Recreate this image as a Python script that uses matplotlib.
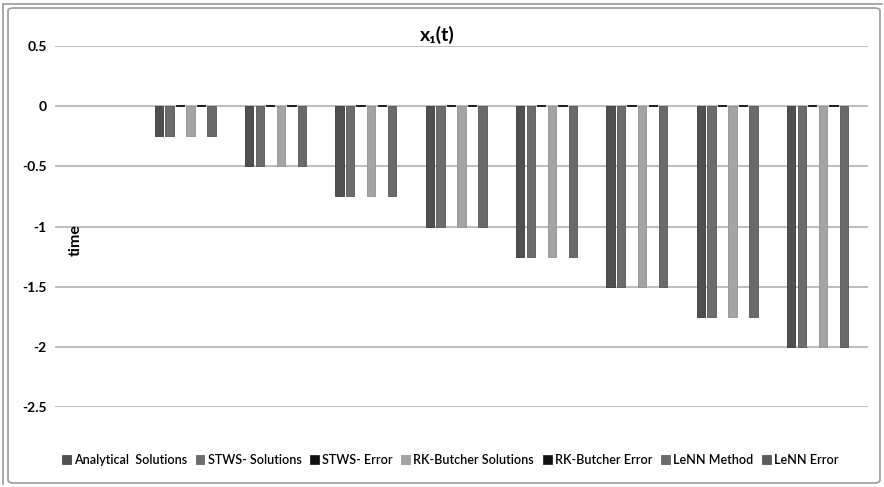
import numpy as np
import matplotlib.pyplot as plt
from matplotlib.patches import Patch, FancyBboxPatch
from matplotlib.lines import Line2D

plt.rcParams['font.family'] = ['Lato', 'DejaVu Sans']

# time steps and the solution values at each step
t_labels = ['0', '0.25', '0.5', '0.75', '1', '1.25', '1.5', '1.75', '2']
analytical = [0, -0.25, -0.5, -0.75, -1.0, -1.25, -1.5, -1.75, -2.0]
stws_sol = [0, -0.25, -0.5, -0.75, -1.0, -1.25, -1.5, -1.75, -2.0]
stws_err = [0, 0.012, 0.012, 0.012, 0.012, 0.012, 0.012, 0.012, 0.012]
rk_sol = [0, -0.25, -0.5, -0.75, -1.0, -1.25, -1.5, -1.75, -2.0]
rk_err = [0, 0.012, 0.012, 0.012, 0.012, 0.012, 0.012, 0.012, 0.012]
lenn_method = [0, -0.25, -0.5, -0.75, -1.0, -1.25, -1.5, -1.75, -2.0]
lenn_err = [0, 0, 0, 0, 0, 0, 0, 0, 0]

series = [
    ('Analytical  Solutions', analytical, '#505050', '#383838'),
    ('STWS- Solutions', stws_sol, '#6c6c6c', '#555555'),
    ('STWS- Error', stws_err, '#111111', '#111111'),
    ('RK-Butcher Solutions', rk_sol, '#a4a4a4', '#909090'),
    ('RK-Butcher Error', rk_err, '#111111', '#111111'),
    ('LeNN Method', lenn_method, '#6a6a6a', '#555555'),
    ('LeNN Error', lenn_err, '#5a5a5a', '#444444'),
]

fig = plt.figure(figsize=(8.84, 4.87), dpi=100)
ax = fig.add_axes([55 / 884, 1 - 407 / 487, 813 / 884, 361 / 487])

x = np.arange(len(t_labels))
slot = 0.117
handles = []
for i, (name, vals, fc, ec) in enumerate(series):
    lw = [0.6 if v != 0 else 0 for v in vals]
    ax.bar(x + (i - 3) * slot, vals, width=0.092, color=fc,
           edgecolor=ec, linewidth=lw, zorder=3)
    handles.append(Patch(facecolor=fc, edgecolor=ec, linewidth=0.5, label=name))

ax.set_xlim(-0.5, 8.5)
ax.set_ylim(-2.5, 0.5)
ax.set_yticks([0.5, 0, -0.5, -1, -1.5, -2, -2.5])
ax.set_yticklabels(['0.5', '0', '-0.5', '-1', '-1.5', '-2', '-2.5'],
                   fontsize=10, fontweight='bold')
ax.set_xticks([])
ax.tick_params(axis='y', length=0, pad=6)
ax.grid(axis='y', color='#bdbdbd', linewidth=1.4, zorder=0)
for s in ax.spines.values():
    s.set_visible(False)

ax.text(0.026, 0.4626, 'time', transform=ax.transAxes, rotation=90,
        ha='center', va='center', fontsize=11.5, fontweight='bold')
fig.text(437 / 884, 1 - 35 / 487, 'x₁(t)', ha='center', va='center',
         fontsize=14, fontweight='bold')

fig.legend(handles=handles, loc='center', bbox_to_anchor=(450 / 884, 1 - 460 / 487),
           ncol=7, frameon=False, handlelength=0.7, handleheight=0.7,
           handletextpad=0.25, columnspacing=0.7,
           prop={'weight': 'semibold', 'size': 9.0})

# chart area border
fig.patches.append(FancyBboxPatch((8 / 884, 4 / 487), 872 / 884, 475 / 487,
                                  boxstyle='round,pad=0,rounding_size=0.006',
                                  transform=fig.transFigure, fill=False,
                                  edgecolor='#9a9a9a', linewidth=1.2))
fig.lines.append(Line2D([3 / 884, 3 / 884], [3 / 487, 483 / 487],
                        transform=fig.transFigure, color='#9a9a9a', linewidth=1.2))
fig.lines.append(Line2D([3 / 884, 882 / 884], [483 / 487, 483 / 487],
                        transform=fig.transFigure, color='#9a9a9a', linewidth=1.2))

fig.savefig('out.png', dpi=100)
